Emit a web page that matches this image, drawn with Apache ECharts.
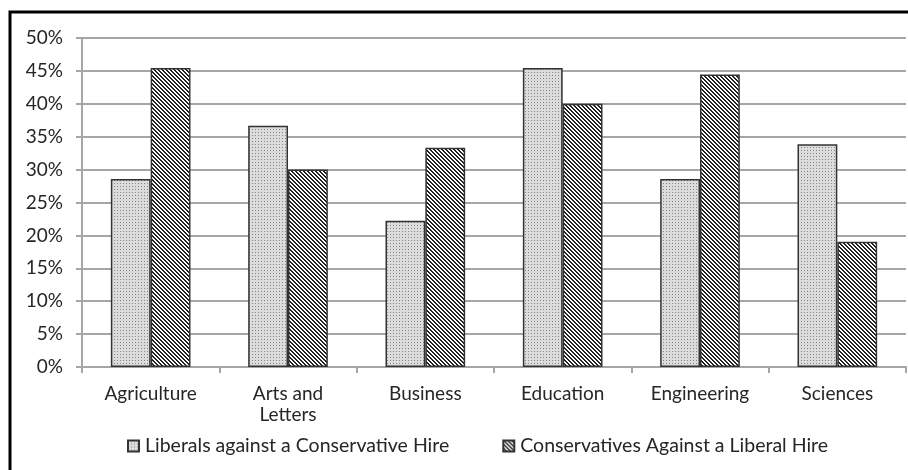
<!DOCTYPE html>
<html>
<head>
<meta charset="utf-8">
<script src="https://cdn.jsdelivr.net/npm/echarts@6/dist/echarts.min.js"></script>
<style>
  html, body { margin: 0; padding: 0; background: #fff; }
  #chart { width: 908px; height: 470px; }
</style>
</head>
<body>
<div id="chart"></div>
<script>
// Colleges and share of respondents (percent) who would vote against a hire
const categories = ['Agriculture', 'Arts and\nLetters', 'Business', 'Education', 'Engineering', 'Sciences'];
const liberalsAgainstConservative = [28.57, 36.67, 22.22, 45.45, 28.57, 33.85];
const conservativesAgainstLiberal = [45.45, 30.0, 33.33, 40.0, 44.44, 19.05];
const seriesNames = ['Liberals against a Conservative Hire', 'Conservatives Against a Liberal Hire'];
const yTicks = { min: 0, max: 50, step: 5 };

// Small canvas tiles used as fill patterns
function makeTile(size, painter) {
  const c = document.createElement('canvas');
  c.width = size; c.height = size;
  const ctx = c.getContext('2d');
  painter(ctx, size);
  return c;
}
const dotTile = makeTile(3, (ctx, s) => {
  ctx.fillStyle = '#dcdcdc';
  ctx.fillRect(0, 0, s, s);
  ctx.fillStyle = '#858585';
  ctx.fillRect(0, 0, 1, 1);
});
const stripeTile = makeTile(4, (ctx, s) => {
  ctx.fillStyle = '#ffffff';
  ctx.fillRect(0, 0, s, s);
  ctx.fillStyle = '#222222';
  for (let y = 0; y < s; y++) {
    for (let x = 0; x < s; x++) {
      if (((x - y) % 4 + 4) % 4 < 2) ctx.fillRect(x, y, 1, 1);
    }
  }
});

const font = 'Lato, "Open Sans", sans-serif';
const chart = echarts.init(document.getElementById('chart'), null, { renderer: 'canvas' });

chart.setOption({
  animation: false,
  backgroundColor: '#ffffff',
  textStyle: { fontFamily: font },
  graphic: [{
    type: 'rect',
    shape: { x: 10, y: 12, width: 1200, height: 1200 },
    style: { fill: 'none', stroke: '#000', lineWidth: 3 },
    silent: true,
    z: 100
  }],
  grid: { left: 82, right: 2, top: 38, bottom: 103, containLabel: false },
  legend: {
    bottom: 9,
    left: 122,
    itemWidth: 11,
    itemHeight: 11,
    itemGap: 53,
    icon: 'rect',
    textStyle: { fontSize: 19.5, color: '#262626', fontFamily: font, padding: [0, 0, 0, 1] },
    data: seriesNames
  },
  xAxis: {
    type: 'category',
    data: categories,
    axisLine: { show: true, lineStyle: { color: '#a6a6a6', width: 2 } },
    axisTick: { show: true, alignWithLabel: false, length: 6, lineStyle: { color: '#a6a6a6', width: 2 } },
    axisLabel: { fontSize: 19, color: '#262626', margin: 16, lineHeight: 21, fontFamily: font }
  },
  yAxis: {
    type: 'value',
    min: yTicks.min,
    max: yTicks.max,
    interval: yTicks.step,
    axisLine: { show: true, lineStyle: { color: '#a6a6a6', width: 2 } },
    axisTick: { show: true, length: 6, lineStyle: { color: '#a6a6a6', width: 2 } },
    splitLine: { show: true, lineStyle: { color: '#a6a6a6', width: 2 } },
    axisLabel: { formatter: '{value}%', fontSize: 19, color: '#262626', margin: 19, fontFamily: font }
  },
  series: [
    {
      name: seriesNames[0],
      type: 'bar',
      data: liberalsAgainstConservative,
      barGap: '0%',
      barCategoryGap: '42%',
      itemStyle: { color: { image: dotTile, repeat: 'repeat' }, borderColor: '#333', borderWidth: 1.5 }
    },
    {
      name: seriesNames[1],
      type: 'bar',
      data: conservativesAgainstLiberal,
      barGap: '0%',
      barCategoryGap: '42%',
      itemStyle: { color: { image: stripeTile, repeat: 'repeat' }, borderColor: '#333', borderWidth: 1.5 }
    }
  ]
});
</script>
</body>
</html>
